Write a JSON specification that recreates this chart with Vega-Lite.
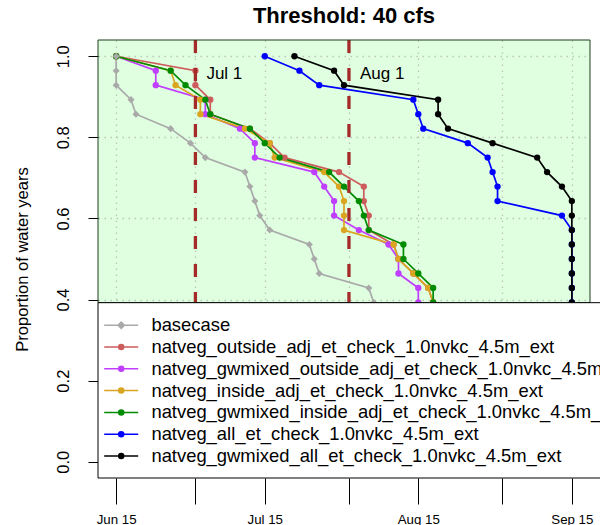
{
  "$schema": "https://vega.github.io/schema/vega-lite/v6.json",
  "width": 492,
  "height": 438,
  "autosize": {"type": "none"},
  "padding": {"left": 98, "top": 40, "right": 10, "bottom": 47},
  "background": "white",
  "title": {"text": "Threshold: 40 cfs", "fontSize": 22, "fontWeight": "bold", "font": "Liberation Sans", "anchor": "middle", "frame": "group", "offset": 15, "dy": 22, "baseline": "alphabetic", "color": "black"},
  "config": {"view": {"stroke": null, "fill": "#e0ffe0"}, "font": "Liberation Sans"},
  "datasets": {
    "cdf": [
      {"s":"basecase","d":"2000-06-15","p":1},{"s":"basecase","d":"2000-06-15","p":0.9643},{"s":"basecase","d":"2000-06-15","p":0.9286},{"s":"basecase","d":"2000-06-18","p":0.8929},{"s":"basecase","d":"2000-06-19","p":0.8571},{"s":"basecase","d":"2000-06-26","p":0.8214},{"s":"basecase","d":"2000-06-30","p":0.7857},{"s":"basecase","d":"2000-07-03","p":0.75},{"s":"basecase","d":"2000-07-11","p":0.7143},{"s":"basecase","d":"2000-07-12","p":0.6786},{"s":"basecase","d":"2000-07-13","p":0.6429},{"s":"basecase","d":"2000-07-14","p":0.6071},{"s":"basecase","d":"2000-07-16","p":0.5714},{"s":"basecase","d":"2000-07-24","p":0.5357},{"s":"basecase","d":"2000-07-25","p":0.5},{"s":"basecase","d":"2000-07-26","p":0.4643},{"s":"basecase","d":"2000-08-05","p":0.4286},{"s":"basecase","d":"2000-08-06","p":0.3929},
      {"s":"natveg_outside_adj_et_check_1.0nvkc_4.5m_ext","d":"2000-06-15","p":1},{"s":"natveg_outside_adj_et_check_1.0nvkc_4.5m_ext","d":"2000-07-01","p":0.9643},{"s":"natveg_outside_adj_et_check_1.0nvkc_4.5m_ext","d":"2000-07-01","p":0.9286},{"s":"natveg_outside_adj_et_check_1.0nvkc_4.5m_ext","d":"2000-07-04","p":0.8929},{"s":"natveg_outside_adj_et_check_1.0nvkc_4.5m_ext","d":"2000-07-04","p":0.8571},{"s":"natveg_outside_adj_et_check_1.0nvkc_4.5m_ext","d":"2000-07-12","p":0.8214},{"s":"natveg_outside_adj_et_check_1.0nvkc_4.5m_ext","d":"2000-07-16","p":0.7857},{"s":"natveg_outside_adj_et_check_1.0nvkc_4.5m_ext","d":"2000-07-19","p":0.75},{"s":"natveg_outside_adj_et_check_1.0nvkc_4.5m_ext","d":"2000-07-30","p":0.7143},{"s":"natveg_outside_adj_et_check_1.0nvkc_4.5m_ext","d":"2000-08-04","p":0.6786},{"s":"natveg_outside_adj_et_check_1.0nvkc_4.5m_ext","d":"2000-08-04","p":0.6429},{"s":"natveg_outside_adj_et_check_1.0nvkc_4.5m_ext","d":"2000-08-05","p":0.6071},{"s":"natveg_outside_adj_et_check_1.0nvkc_4.5m_ext","d":"2000-08-05","p":0.5714},{"s":"natveg_outside_adj_et_check_1.0nvkc_4.5m_ext","d":"2000-08-10","p":0.5357},{"s":"natveg_outside_adj_et_check_1.0nvkc_4.5m_ext","d":"2000-08-11","p":0.5},{"s":"natveg_outside_adj_et_check_1.0nvkc_4.5m_ext","d":"2000-08-14","p":0.4643},{"s":"natveg_outside_adj_et_check_1.0nvkc_4.5m_ext","d":"2000-08-17","p":0.4286},{"s":"natveg_outside_adj_et_check_1.0nvkc_4.5m_ext","d":"2000-08-18","p":0.3929},
      {"s":"natveg_gwmixed_outside_adj_et_check_1.0nvkc_4.5m_ext","d":"2000-06-15","p":1},{"s":"natveg_gwmixed_outside_adj_et_check_1.0nvkc_4.5m_ext","d":"2000-06-23","p":0.9643},{"s":"natveg_gwmixed_outside_adj_et_check_1.0nvkc_4.5m_ext","d":"2000-06-23","p":0.9286},{"s":"natveg_gwmixed_outside_adj_et_check_1.0nvkc_4.5m_ext","d":"2000-07-03","p":0.8929},{"s":"natveg_gwmixed_outside_adj_et_check_1.0nvkc_4.5m_ext","d":"2000-07-03","p":0.8571},{"s":"natveg_gwmixed_outside_adj_et_check_1.0nvkc_4.5m_ext","d":"2000-07-10","p":0.8214},{"s":"natveg_gwmixed_outside_adj_et_check_1.0nvkc_4.5m_ext","d":"2000-07-13","p":0.7857},{"s":"natveg_gwmixed_outside_adj_et_check_1.0nvkc_4.5m_ext","d":"2000-07-13","p":0.75},{"s":"natveg_gwmixed_outside_adj_et_check_1.0nvkc_4.5m_ext","d":"2000-07-25","p":0.7143},{"s":"natveg_gwmixed_outside_adj_et_check_1.0nvkc_4.5m_ext","d":"2000-07-27","p":0.6786},{"s":"natveg_gwmixed_outside_adj_et_check_1.0nvkc_4.5m_ext","d":"2000-07-29","p":0.6429},{"s":"natveg_gwmixed_outside_adj_et_check_1.0nvkc_4.5m_ext","d":"2000-07-29","p":0.6071},{"s":"natveg_gwmixed_outside_adj_et_check_1.0nvkc_4.5m_ext","d":"2000-08-03","p":0.5714},{"s":"natveg_gwmixed_outside_adj_et_check_1.0nvkc_4.5m_ext","d":"2000-08-09","p":0.5357},{"s":"natveg_gwmixed_outside_adj_et_check_1.0nvkc_4.5m_ext","d":"2000-08-11","p":0.5},{"s":"natveg_gwmixed_outside_adj_et_check_1.0nvkc_4.5m_ext","d":"2000-08-11","p":0.4643},{"s":"natveg_gwmixed_outside_adj_et_check_1.0nvkc_4.5m_ext","d":"2000-08-15","p":0.4286},{"s":"natveg_gwmixed_outside_adj_et_check_1.0nvkc_4.5m_ext","d":"2000-08-15","p":0.3929},
      {"s":"natveg_inside_adj_et_check_1.0nvkc_4.5m_ext","d":"2000-06-15","p":1},{"s":"natveg_inside_adj_et_check_1.0nvkc_4.5m_ext","d":"2000-06-26","p":0.9643},{"s":"natveg_inside_adj_et_check_1.0nvkc_4.5m_ext","d":"2000-06-27","p":0.9286},{"s":"natveg_inside_adj_et_check_1.0nvkc_4.5m_ext","d":"2000-07-02","p":0.8929},{"s":"natveg_inside_adj_et_check_1.0nvkc_4.5m_ext","d":"2000-07-02","p":0.8571},{"s":"natveg_inside_adj_et_check_1.0nvkc_4.5m_ext","d":"2000-07-11","p":0.8214},{"s":"natveg_inside_adj_et_check_1.0nvkc_4.5m_ext","d":"2000-07-16","p":0.7857},{"s":"natveg_inside_adj_et_check_1.0nvkc_4.5m_ext","d":"2000-07-17","p":0.75},{"s":"natveg_inside_adj_et_check_1.0nvkc_4.5m_ext","d":"2000-07-27","p":0.7143},{"s":"natveg_inside_adj_et_check_1.0nvkc_4.5m_ext","d":"2000-07-30","p":0.6786},{"s":"natveg_inside_adj_et_check_1.0nvkc_4.5m_ext","d":"2000-07-31","p":0.6429},{"s":"natveg_inside_adj_et_check_1.0nvkc_4.5m_ext","d":"2000-07-31","p":0.6071},{"s":"natveg_inside_adj_et_check_1.0nvkc_4.5m_ext","d":"2000-07-31","p":0.5714},{"s":"natveg_inside_adj_et_check_1.0nvkc_4.5m_ext","d":"2000-08-10","p":0.5357},{"s":"natveg_inside_adj_et_check_1.0nvkc_4.5m_ext","d":"2000-08-11","p":0.5},{"s":"natveg_inside_adj_et_check_1.0nvkc_4.5m_ext","d":"2000-08-14","p":0.4643},{"s":"natveg_inside_adj_et_check_1.0nvkc_4.5m_ext","d":"2000-08-17","p":0.4286},{"s":"natveg_inside_adj_et_check_1.0nvkc_4.5m_ext","d":"2000-08-18","p":0.3929},
      {"s":"natveg_gwmixed_inside_adj_et_check_1.0nvkc_4.5m_ext","d":"2000-06-15","p":1},{"s":"natveg_gwmixed_inside_adj_et_check_1.0nvkc_4.5m_ext","d":"2000-06-26","p":0.9643},{"s":"natveg_gwmixed_inside_adj_et_check_1.0nvkc_4.5m_ext","d":"2000-06-29","p":0.9286},{"s":"natveg_gwmixed_inside_adj_et_check_1.0nvkc_4.5m_ext","d":"2000-07-03","p":0.8929},{"s":"natveg_gwmixed_inside_adj_et_check_1.0nvkc_4.5m_ext","d":"2000-07-04","p":0.8571},{"s":"natveg_gwmixed_inside_adj_et_check_1.0nvkc_4.5m_ext","d":"2000-07-12","p":0.8214},{"s":"natveg_gwmixed_inside_adj_et_check_1.0nvkc_4.5m_ext","d":"2000-07-15","p":0.7857},{"s":"natveg_gwmixed_inside_adj_et_check_1.0nvkc_4.5m_ext","d":"2000-07-18","p":0.75},{"s":"natveg_gwmixed_inside_adj_et_check_1.0nvkc_4.5m_ext","d":"2000-07-28","p":0.7143},{"s":"natveg_gwmixed_inside_adj_et_check_1.0nvkc_4.5m_ext","d":"2000-07-31","p":0.6786},{"s":"natveg_gwmixed_inside_adj_et_check_1.0nvkc_4.5m_ext","d":"2000-08-03","p":0.6429},{"s":"natveg_gwmixed_inside_adj_et_check_1.0nvkc_4.5m_ext","d":"2000-08-04","p":0.6071},{"s":"natveg_gwmixed_inside_adj_et_check_1.0nvkc_4.5m_ext","d":"2000-08-05","p":0.5714},{"s":"natveg_gwmixed_inside_adj_et_check_1.0nvkc_4.5m_ext","d":"2000-08-12","p":0.5357},{"s":"natveg_gwmixed_inside_adj_et_check_1.0nvkc_4.5m_ext","d":"2000-08-12","p":0.5},{"s":"natveg_gwmixed_inside_adj_et_check_1.0nvkc_4.5m_ext","d":"2000-08-15","p":0.4643},{"s":"natveg_gwmixed_inside_adj_et_check_1.0nvkc_4.5m_ext","d":"2000-08-18","p":0.4286},{"s":"natveg_gwmixed_inside_adj_et_check_1.0nvkc_4.5m_ext","d":"2000-08-18","p":0.3929},
      {"s":"natveg_all_et_check_1.0nvkc_4.5m_ext","d":"2000-07-15","p":1},{"s":"natveg_all_et_check_1.0nvkc_4.5m_ext","d":"2000-07-22","p":0.9643},{"s":"natveg_all_et_check_1.0nvkc_4.5m_ext","d":"2000-07-26","p":0.9286},{"s":"natveg_all_et_check_1.0nvkc_4.5m_ext","d":"2000-08-14","p":0.8929},{"s":"natveg_all_et_check_1.0nvkc_4.5m_ext","d":"2000-08-15","p":0.8571},{"s":"natveg_all_et_check_1.0nvkc_4.5m_ext","d":"2000-08-16","p":0.8214},{"s":"natveg_all_et_check_1.0nvkc_4.5m_ext","d":"2000-08-25","p":0.7857},{"s":"natveg_all_et_check_1.0nvkc_4.5m_ext","d":"2000-08-29","p":0.75},{"s":"natveg_all_et_check_1.0nvkc_4.5m_ext","d":"2000-08-30","p":0.7143},{"s":"natveg_all_et_check_1.0nvkc_4.5m_ext","d":"2000-08-31","p":0.6786},{"s":"natveg_all_et_check_1.0nvkc_4.5m_ext","d":"2000-08-31","p":0.6429},{"s":"natveg_all_et_check_1.0nvkc_4.5m_ext","d":"2000-09-13","p":0.6071},{"s":"natveg_all_et_check_1.0nvkc_4.5m_ext","d":"2000-09-15","p":0.5714},{"s":"natveg_all_et_check_1.0nvkc_4.5m_ext","d":"2000-09-15","p":0.5357},{"s":"natveg_all_et_check_1.0nvkc_4.5m_ext","d":"2000-09-15","p":0.5},{"s":"natveg_all_et_check_1.0nvkc_4.5m_ext","d":"2000-09-15","p":0.4643},{"s":"natveg_all_et_check_1.0nvkc_4.5m_ext","d":"2000-09-15","p":0.4286},{"s":"natveg_all_et_check_1.0nvkc_4.5m_ext","d":"2000-09-15","p":0.3929},
      {"s":"natveg_gwmixed_all_et_check_1.0nvkc_4.5m_ext","d":"2000-07-21","p":1},{"s":"natveg_gwmixed_all_et_check_1.0nvkc_4.5m_ext","d":"2000-07-29","p":0.9643},{"s":"natveg_gwmixed_all_et_check_1.0nvkc_4.5m_ext","d":"2000-07-31","p":0.9286},{"s":"natveg_gwmixed_all_et_check_1.0nvkc_4.5m_ext","d":"2000-08-19","p":0.8929},{"s":"natveg_gwmixed_all_et_check_1.0nvkc_4.5m_ext","d":"2000-08-19","p":0.8571},{"s":"natveg_gwmixed_all_et_check_1.0nvkc_4.5m_ext","d":"2000-08-21","p":0.8214},{"s":"natveg_gwmixed_all_et_check_1.0nvkc_4.5m_ext","d":"2000-08-30","p":0.7857},{"s":"natveg_gwmixed_all_et_check_1.0nvkc_4.5m_ext","d":"2000-09-08","p":0.75},{"s":"natveg_gwmixed_all_et_check_1.0nvkc_4.5m_ext","d":"2000-09-10","p":0.7143},{"s":"natveg_gwmixed_all_et_check_1.0nvkc_4.5m_ext","d":"2000-09-13","p":0.6786},{"s":"natveg_gwmixed_all_et_check_1.0nvkc_4.5m_ext","d":"2000-09-15","p":0.6429},{"s":"natveg_gwmixed_all_et_check_1.0nvkc_4.5m_ext","d":"2000-09-15","p":0.6071},{"s":"natveg_gwmixed_all_et_check_1.0nvkc_4.5m_ext","d":"2000-09-15","p":0.5714},{"s":"natveg_gwmixed_all_et_check_1.0nvkc_4.5m_ext","d":"2000-09-15","p":0.5357},{"s":"natveg_gwmixed_all_et_check_1.0nvkc_4.5m_ext","d":"2000-09-15","p":0.5},{"s":"natveg_gwmixed_all_et_check_1.0nvkc_4.5m_ext","d":"2000-09-15","p":0.4643},{"s":"natveg_gwmixed_all_et_check_1.0nvkc_4.5m_ext","d":"2000-09-15","p":0.4286},{"s":"natveg_gwmixed_all_et_check_1.0nvkc_4.5m_ext","d":"2000-09-15","p":0.3929}
    ],
    "refs": [
      {"d":"2000-07-01","label":"Jul 1"},
      {"d":"2000-08-01","label":"Aug 1"}
    ],
    "one": [{}]
  },
  "layer": [
    {
      "data": {"name": "cdf"},
      "mark": {"type": "line", "strokeWidth": 1.7},
      "encoding": {
        "x": {
          "field": "d", "type": "temporal", "title": null,
          "scale": {"type": "utc", "domain": [{"year": 2000, "month": 6, "date": 11, "hours": 8, "utc": true}, {"year": 2000, "month": 9, "date": 18, "hours": 16, "utc": true}], "nice": false},
          "axis": {
            "values": [{"year": 2000, "month": 6, "date": 15, "utc": true}, {"year": 2000, "month": 7, "date": 1, "utc": true}, {"year": 2000, "month": 7, "date": 15, "utc": true}, {"year": 2000, "month": 8, "date": 1, "utc": true}, {"year": 2000, "month": 8, "date": 15, "utc": true}, {"year": 2000, "month": 9, "date": 1, "utc": true}, {"year": 2000, "month": 9, "date": 15, "utc": true}],
            "labelExpr": "utcdate(datum.value) === 15 ? utcFormat(datum.value, '%b %d') : ''",
            "labelFontSize": 13.3, "labelColor": "black", "labelFont": "Liberation Sans", "labelPadding": 8,
            "labelFlush": false, "labelOverlap": false,
            "tickSize": 26, "tickColor": "black", "tickWidth": 1,
            "domain": false,
            "grid": true, "gridColor": "#b9c6b9", "gridDash": [1.5, 4.5], "gridWidth": 1.3,
            "encode": {"ticks": {"update": {"y2": {"signal": "utcdate(datum.value) === 1 ? 26 : 15"}}}}
          }
        },
        "y": {
          "field": "p", "type": "quantitative",
          "scale": {"domain": [-0.04, 1.04], "nice": false, "zero": false},
          "axis": {
            "values": [0, 0.2, 0.4, 0.6, 0.8, 1], "format": ".1f",
            "labelAngle": 270, "labelAlign": "center", "labelBaseline": "middle", "labelPadding": 25,
            "labelFontSize": 16.5, "labelColor": "black", "labelFont": "Liberation Sans",
            "labelFlush": false, "labelOverlap": false,
            "tickSize": 10, "tickColor": "black", "tickWidth": 1,
            "domain": false,
            "grid": true, "gridColor": "#b9c6b9", "gridDash": [1.5, 4.5], "gridWidth": 1.3,
            "title": "Proportion of water years", "titleFontSize": 16.5, "titleFontWeight": "normal", "titleColor": "black", "titleFont": "Liberation Sans",
            "titleAngle": 270, "titleAlign": "center", "titleBaseline": "middle", "titleX": -76, "titleY": 219
          }
        },
        "color": {
          "field": "s", "type": "nominal",
          "scale": {
            "domain": ["basecase", "natveg_outside_adj_et_check_1.0nvkc_4.5m_ext", "natveg_gwmixed_outside_adj_et_check_1.0nvkc_4.5m_ext", "natveg_inside_adj_et_check_1.0nvkc_4.5m_ext", "natveg_gwmixed_inside_adj_et_check_1.0nvkc_4.5m_ext", "natveg_all_et_check_1.0nvkc_4.5m_ext", "natveg_gwmixed_all_et_check_1.0nvkc_4.5m_ext"],
            "range": ["#A9A9A9", "#CD5C5C", "#BF3EFF", "#DAA520", "#008B00", "#0000FF", "#000000"]
          },
          "legend": {
            "orient": "none", "legendX": 14, "legendY": 276, "title": null, "padding": 0,
            "direction": "vertical", "columns": 1,
            "labelFontSize": 18.4, "labelFont": "Liberation Sans", "labelColor": "black", "labelOffset": 21, "labelLimit": 1000,
            "rowPadding": 2.8, "symbolSize": 196, "symbolStrokeWidth": 1.5, "symbolType": "M -2.43 0 L 2.43 0",
            "fillColor": null, "strokeColor": null,
            "encode": {"symbols": {"update": {
              "shape": {"signal": "datum.value === 'basecase' ? 'M -2.43 0 L 2.43 0 M 0 -0.45 L 0.45 0 L 0 0.45 L -0.45 0 Z' : 'M -2.43 0 L 2.43 0 M -0.36 0 A 0.36 0.36 0 1 0 0.36 0 A 0.36 0.36 0 1 0 -0.36 0 Z'"},
              "fill": {"scale": "color", "field": "value"},
              "stroke": {"scale": "color", "field": "value"},
              "opacity": {"value": 1},
              "strokeWidth": {"value": 1.5}
            }}}
          }
        },
        "order": {"field": "p", "sort": "descending"}
      }
    },
    {
      "data": {"name": "cdf"},
      "transform": [{"filter": "datum.s !== 'basecase'"}],
      "mark": {"type": "point", "filled": true, "shape": "circle", "size": 40, "opacity": 1},
      "encoding": {
        "x": {"field": "d", "type": "temporal"},
        "y": {"field": "p", "type": "quantitative"},
        "color": {"field": "s", "type": "nominal"}
      }
    },
    {
      "data": {"name": "cdf"},
      "transform": [{"filter": "datum.s === 'basecase'"}],
      "mark": {"type": "point", "filled": true, "shape": "diamond", "size": 50, "opacity": 1},
      "encoding": {
        "x": {"field": "d", "type": "temporal"},
        "y": {"field": "p", "type": "quantitative"},
        "color": {"field": "s", "type": "nominal"}
      }
    },
    {
      "data": {"name": "refs"},
      "mark": {"type": "rule", "color": "#A52A2A", "strokeWidth": 3.3, "strokeDash": [13, 15]},
      "encoding": {
        "x": {"field": "d", "type": "temporal"}
      }
    },
    {
      "data": {"name": "refs"},
      "mark": {"type": "text", "align": "left", "baseline": "middle", "dx": 11, "fontSize": 17, "font": "Liberation Sans", "color": "black"},
      "encoding": {
        "x": {"field": "d", "type": "temporal"},
        "y": {"datum": 0.955},
        "text": {"field": "label"}
      }
    },
    {
      "data": {"name": "one"},
      "mark": {"type": "rect", "fill": "transparent", "stroke": "#1e3c1e", "strokeWidth": 1},
      "encoding": {
        "x": {"datum": {"year": 2000, "month": 6, "date": 11, "hours": 8, "utc": true}, "type": "temporal"},
        "x2": {"datum": {"year": 2000, "month": 9, "date": 18, "hours": 16, "utc": true}},
        "y": {"datum": 0.3923},
        "y2": {"datum": 1.04}
      }
    },
    {
      "data": {"name": "one"},
      "mark": {"type": "rect", "fill": "white", "stroke": "black", "strokeWidth": 1},
      "encoding": {
        "x": {"datum": {"year": 2000, "month": 6, "date": 11, "hours": 8, "utc": true}, "type": "temporal"},
        "x2": {"datum": {"year": 2000, "month": 10, "date": 20, "utc": true}},
        "y": {"datum": -0.04},
        "y2": {"datum": 0.3923}
      }
    }
  ]
}
